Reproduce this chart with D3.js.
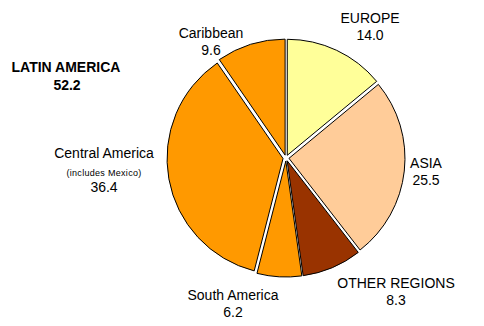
<!DOCTYPE html>
<html>
<head>
<meta charset="utf-8">
<script src="https://cdn.jsdelivr.net/npm/d3@7"></script>
<style>
  body { margin: 0; background: #fff; }
  text { font-family: Arial, "Liberation Sans", sans-serif; fill: #000; }
</style>
</head>
<body>
<svg id="chart" width="484" height="326"></svg>
<script>
// slices, clockwise from 12 o'clock
const regions = ["EUROPE", "ASIA", "OTHER REGIONS", "South America", "Central America", "Caribbean"];
const shares = [14.0, 25.5, 8.3, 6.2, 36.4, 9.6];
const colours = ["#FFFF99", "#FFCC99", "#993300", "#FF9900", "#FF9900", "#FF9900"];

// label text: name lines + value
const labelLines = [
  ["EUROPE"],
  ["ASIA"],
  ["OTHER REGIONS"],
  ["South America"],
  ["Central America", "(includes Mexico)"],
  ["Caribbean"]
];
const groupName = "LATIN AMERICA";
const groupValue = 52.2;

const svg = d3.select("#chart");
const cx = 286, cy = 158, r = 116, explode = 3;

const pie = d3.pie().sort(null).value(d => d);
const arcs = pie(shares);
const arc = d3.arc().innerRadius(0).outerRadius(r);

const g = svg.append("g").attr("transform", `translate(${cx},${cy})`);

g.selectAll("path")
  .data(arcs)
  .join("path")
  .attr("d", arc)
  .attr("fill", (d, i) => colours[i])
  .attr("stroke", "#000")
  .attr("stroke-width", 1)
  .attr("transform", d => {
    const m = (d.startAngle + d.endAngle) / 2;
    return `translate(${explode * Math.sin(m)},${-explode * Math.cos(m)})`;
  });

// label anchor points (centre x, first baseline)
const labelPos = [
  [370, 23],
  [426, 168],
  [396, 288],
  [233, 300],
  [104, 158],
  [211, 38]
];

labelPos.forEach((p, i) => {
  const t = svg.append("text")
    .attr("text-anchor", "middle")
    .attr("font-size", 14);
  let y = p[1];
  labelLines[i].forEach((line, j) => {
    const small = j > 0;
    t.append("tspan")
      .attr("x", p[0])
      .attr("y", y)
      .attr("font-size", small ? 9 : 14)
      .style("letter-spacing", small ? "0.3px" : "0px")
      .text(line);
    y += small ? 17 : 18;
  });
  if (labelLines[i].length > 1) y -= 1;
  t.append("tspan")
    .attr("x", p[0])
    .attr("y", labelLines[i].length > 1 ? y : p[1] + 17)
    .text(d3.format(".1f")(shares[i]));
});

const lt = svg.append("text")
  .attr("text-anchor", "middle")
  .attr("font-size", 14)
  .attr("font-weight", "bold");
lt.append("tspan").attr("x", 66).attr("y", 72).text(groupName);
lt.append("tspan").attr("x", 67).attr("y", 90).text(d3.format(".1f")(groupValue));
</script>
</body>
</html>
